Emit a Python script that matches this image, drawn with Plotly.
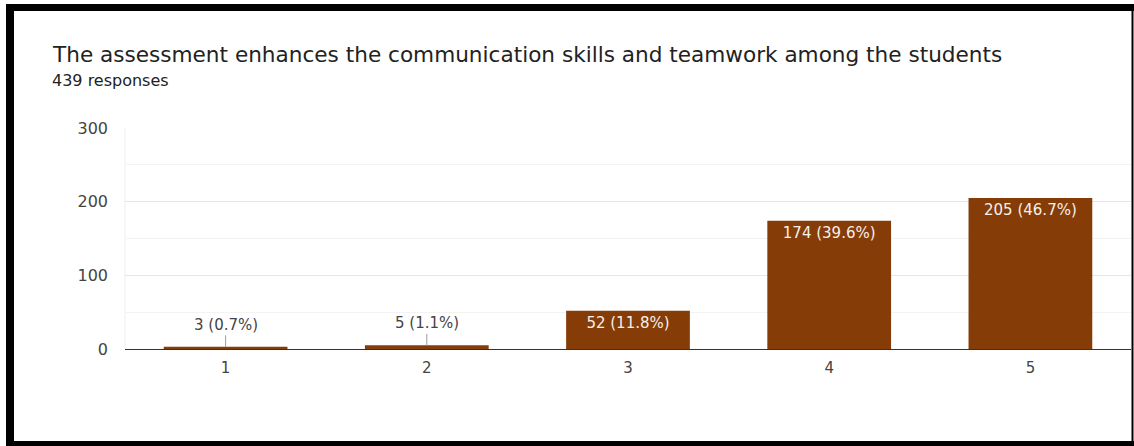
import plotly.graph_objects as go

categories = ["1", "2", "3", "4", "5"]
counts = [3, 5, 52, 174, 205]
pct_labels = ["0.7%", "1.1%", "11.8%", "39.6%", "46.7%"]
y_ticks = [0, 100, 200, 300]

title_text = "The assessment enhances the communication skills and teamwork among the students"
subtitle_text = "439 responses"

W, H = 1134, 446
L, R, T, B = 125, 3, 128, 97
PW, PH = W - L - R, H - T - B

def px(x):
    return (x - L) / PW

def py(y):
    return (H - B - y) / PH

BAR = "#863c06"
LABEL_FONT = "DejaVu Sans"
labels = [f"{c} ({p})" for c, p in zip(counts, pct_labels)]
inside = [lab if c >= 20 else "" for lab, c in zip(labels, counts)]

fig = go.Figure()
fig.add_trace(go.Bar(
    x=categories, y=counts, marker=dict(color=BAR, line=dict(width=0)),
    text=inside, textposition="inside", insidetextanchor="end",
    textfont=dict(family=LABEL_FONT, size=15, color="#f5f0ec"),
    constraintext="none", cliponaxis=False, hoverinfo="skip",
))

annotations = []
for i, (c, lab) in enumerate(zip(counts, labels)):
    if c < 20:
        annotations.append(dict(
            x=i, y=c, xref="x", yref="y", text=lab, showarrow=True,
            arrowhead=0, arrowwidth=1, arrowcolor="#9e9e9e", ax=0, ay=-22,
            font=dict(family=LABEL_FONT, size=15, color="#444444"),
        ))

annotations.append(dict(
    x=px(50), y=py(54), xref="paper", yref="paper", xanchor="left", yanchor="middle",
    text=title_text, showarrow=False,
    font=dict(family="DejaVu Sans", size=21.6, color="#222222"),
))
annotations.append(dict(
    x=px(50), y=py(80), xref="paper", yref="paper", xanchor="left", yanchor="middle",
    text=subtitle_text, showarrow=False,
    font=dict(family="DejaVu Sans", size=16, color="#222222"),
))

shapes = []
def rect(x0, y0, x1, y1, color):
    shapes.append(dict(type="rect", xref="paper", yref="paper",
                       x0=px(x0), x1=px(x1), y0=py(y1), y1=py(y0),
                       fillcolor=color, line=dict(width=0), layer="above"))

rect(6, 4, 1134, 11, "black")
rect(6, 4, 14, 446, "black")
rect(6, 441, 1134, 446, "black")
rect(1131.5, 4, 1133.5, 446, "black")

shapes.append(dict(type="line", xref="paper", yref="paper", x0=0, x1=0, y0=0, y1=1,
                   line=dict(color="#eeeeee", width=1), layer="below"))

fig.update_layout(
    width=W, height=H, margin=dict(l=L, r=R, t=T, b=B),
    paper_bgcolor="white", plot_bgcolor="white",
    showlegend=False, bargap=0.385,
    annotations=annotations, shapes=shapes,
    xaxis=dict(type="category", showgrid=False, zeroline=False, showline=False,
               ticks="", tickfont=dict(family=LABEL_FONT, size=15, color="#444444"),
               ticklabelstandoff=8),
    yaxis=dict(range=[0, 300], tickvals=y_ticks, showgrid=True, gridcolor="#e6e6e6",
               zeroline=True, zerolinecolor="#333333", zerolinewidth=1,
               minor=dict(dtick=50, showgrid=True, gridcolor="#f3f3f3"),
               ticks="", ticklabelstandoff=16,
               tickfont=dict(family=LABEL_FONT, size=16, color="#444444")),
)

fig.write_html("out.html", config={"displayModeBar": False},
               post_script="document.body.style.margin='0';document.body.style.overflow='hidden';")
